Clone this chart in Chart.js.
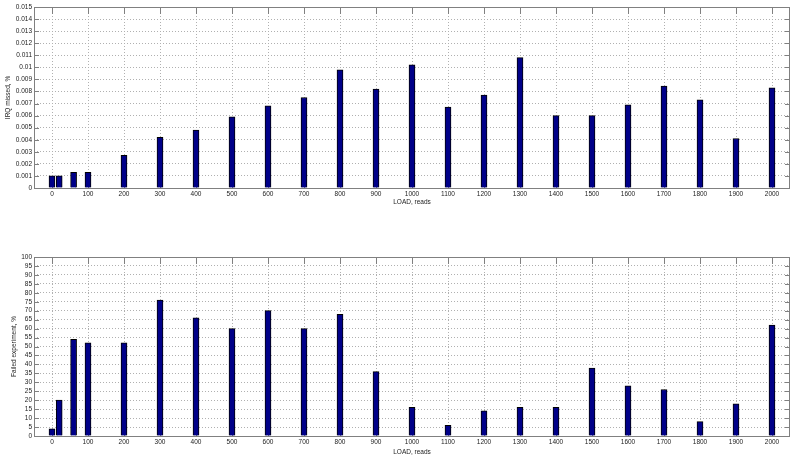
<!DOCTYPE html>
<html><head><meta charset="utf-8">
<script src="https://cdn.jsdelivr.net/npm/chart.js@4"></script>
<style>
html,body{margin:0;padding:0;background:#fff;}
#wrap{position:relative;width:800px;height:460px;overflow:hidden;}
canvas{position:absolute;left:0;}
</style></head><body>
<div id="wrap">
<canvas id="c1" width="800" height="230" style="top:0"></canvas>
<canvas id="c2" width="800" height="230" style="top:230px"></canvas>
</div>
<script>
const loads = [0,20,60,100,200,300,400,500,600,700,800,900,1000,1100,1200,1300,1400,1500,1600,1700,1800,1900,2000];
const irqMissed = [0.001,0.001,0.0013,0.0013,0.0027,0.0042,0.0048,0.0059,0.0068,0.0075,0.0098,0.0082,0.0102,0.0067,0.0077,0.0108,0.0060,0.0060,0.0069,0.00845,0.0073,0.0041,0.0083];
const failedExp = [4,20,54,52,52,76,66,60,70,60,68,36,16,6,14,16,16,38,28,26,8,18,62];
const xTicks = [0,100,200,300,400,500,600,700,800,900,1000,1100,1200,1300,1400,1500,1600,1700,1800,1900,2000];
const irqTicks = [0,0.001,0.002,0.003,0.004,0.005,0.006,0.007,0.008,0.009,0.01,0.011,0.012,0.013,0.014,0.015];
const failTicks = [0,5,10,15,20,25,30,35,40,45,50,55,60,65,70,75,80,85,90,95,100];

Chart.defaults.font.family = '"Liberation Sans", Arial, Helvetica, sans-serif';
Chart.defaults.font.size = 6.5;
Chart.defaults.color = '#222';

const boxPlugin = {
  id: 'box',
  beforeDatasetsDraw(chart) {
    const ctx = chart.ctx, a = chart.chartArea;
    const xs = chart.scales.x, ys = chart.scales.y;
    ctx.save();
    ctx.strokeStyle = '#808080';
    ctx.lineWidth = 1;
    ctx.beginPath();
    xs.ticks.forEach(t => {
      const px = Math.round(xs.getPixelForValue(t.value)) + 0.5;
      ctx.moveTo(px, a.top); ctx.lineTo(px, a.top + 7);
      ctx.moveTo(px, a.bottom); ctx.lineTo(px, a.bottom - 7);
    });
    ys.ticks.forEach(t => {
      const py = Math.round(ys.getPixelForValue(t.value)) + 0.5;
      ctx.moveTo(a.left, py); ctx.lineTo(a.left + 5, py);
      ctx.moveTo(a.right, py); ctx.lineTo(a.right - 5, py);
    });
    ctx.stroke();
    ctx.strokeRect(Math.round(a.left) + 0.5, Math.round(a.top) + 0.5,
                   Math.round(a.right - a.left) - 1, Math.round(a.bottom - a.top));
    ctx.restore();
  }
};

function makeChart(id, values, yTicks, yTitle, cfg) {
  return new Chart(document.getElementById(id), {
    type: 'bar',
    data: {
      datasets: [{
        data: loads.map((x, i) => ({x: x, y: values[i]})),
        backgroundColor: '#000088',
        borderColor: '#000000',
        borderWidth: 1,
        barThickness: 6
      }]
    },
    options: {
      responsive: false,
      animation: false,
      layout: {padding: {left: 0, right: 10, top: cfg.top, bottom: 0}},
      plugins: {legend: {display: false}, tooltip: {enabled: false}},
      scales: {
        x: {
          type: 'linear',
          min: -50, max: 2050,
          offset: false,
          afterBuildTicks: s => { s.ticks = xTicks.map(v => ({value: v})); },
          afterFit: s => { s.height = cfg.xh; },
          ticks: {padding: 2, maxRotation: 0, autoSkip: false, callback: v => String(v)},
          grid: {offset: false, drawTicks: false, color: '#b0b0b0', lineWidth: 1},
          border: {display: false, dash: [1, 2]},
          title: {display: true, text: 'LOAD, reads', padding: {top: 0, bottom: cfg.xtp}}
        },
        y: {
          min: yTicks[0], max: yTicks[yTicks.length - 1],
          afterBuildTicks: s => { s.ticks = yTicks.map(v => ({value: v})); },
          afterFit: s => { s.width = 34; },
          ticks: {padding: 2, autoSkip: false, callback: v => String(v)},
          grid: {drawTicks: false, color: '#b0b0b0', lineWidth: 1},
          border: {display: false, dash: [1, 2]},
          title: {display: true, text: yTitle, padding: {top: cfg.ytp, bottom: 0}}
        }
      }
    },
    plugins: [boxPlugin]
  });
}

makeChart('c1', irqMissed, irqTicks, 'IRQ missed, %', {top: 7, xh: 42, xtp: 24, ytp: 4});
makeChart('c2', failedExp, failTicks, 'Failed experiment, %', {top: 27, xh: 24, xtp: 4, ytp: 10});
</script>
</body></html>
